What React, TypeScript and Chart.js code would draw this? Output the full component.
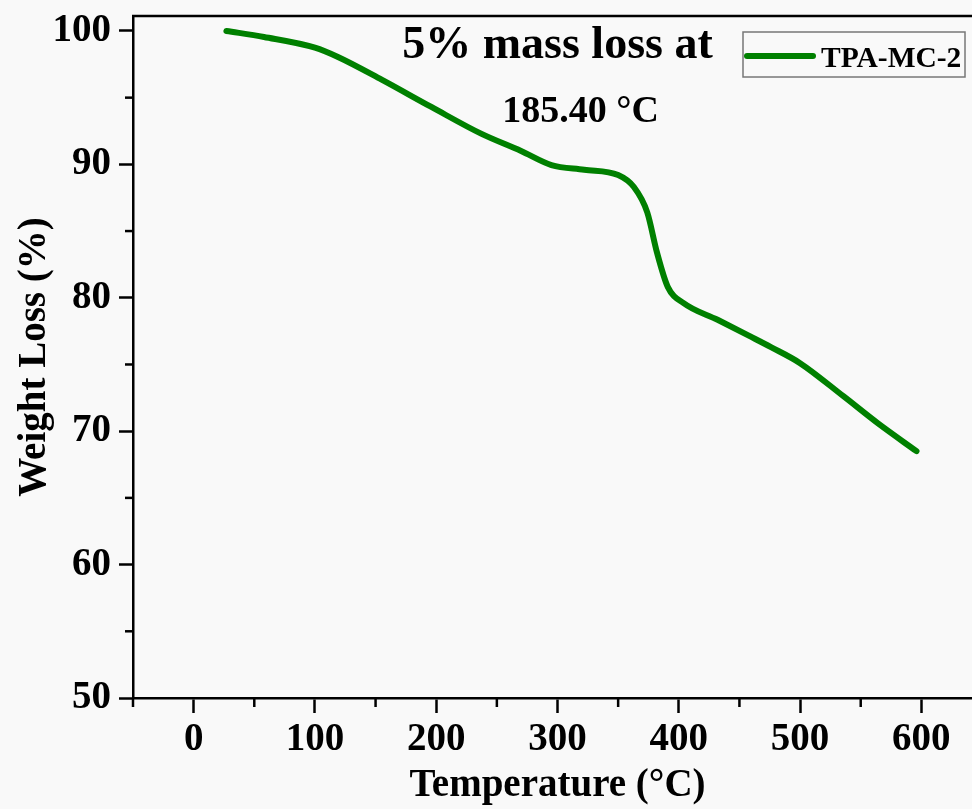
import React, { useEffect, useRef } from 'react';
import { Chart, registerables } from 'chart.js';

Chart.register(...registerables);

// ---- data ----
const temperatures = [27, 58, 100, 119, 155, 196, 237, 270, 295, 322, 350, 363, 374, 382, 391, 404, 432, 459, 476, 500, 536, 564, 596];
const weightLoss = [100, 99.55, 98.75, 98.05, 96.35, 94.3, 92.3, 91.0, 89.95, 89.6, 89.2, 88.3, 86.4, 83.4, 80.8, 79.6, 78.35, 77.1, 76.3, 75.1, 72.6, 70.6, 68.5];
const seriesLabel = 'TPA-MC-2';
const xTickValues = [0, 100, 200, 300, 400, 500, 600];
const xMinorTickValues = [-50, 50, 150, 250, 350, 450, 550, 650];
const yTickValues = [50, 60, 70, 80, 90, 100];
const yMinorTickValues = [55, 65, 75, 85, 95];
const annotationLines = ['5% mass loss at', '185.40 °C'];
const xTitle = 'Temperature (°C)';
const yTitle = 'Weight Loss (%)';

const FONT = "'Liberation Serif', 'Times New Roman', serif";
const GREEN = '#008000';

const decorPlugin = {
  id: 'decor',
  afterDraw(chart: any) {
    const { ctx, chartArea, scales } = chart;
    const xs = scales.x;
    const ys = scales.y;
    ctx.save();
    ctx.strokeStyle = '#000';
    ctx.lineWidth = 2.5;
    // top frame line
    ctx.beginPath();
    ctx.moveTo(chartArea.left - 1, chartArea.top);
    ctx.lineTo(chart.width, chartArea.top);
    ctx.stroke();
    // minor ticks
    xMinorTickValues.forEach((v) => {
      const px = xs.getPixelForValue(v);
      ctx.beginPath();
      ctx.moveTo(px, chartArea.bottom);
      ctx.lineTo(px, chartArea.bottom + 9);
      ctx.stroke();
    });
    yMinorTickValues.forEach((v) => {
      const py = ys.getPixelForValue(v);
      ctx.beginPath();
      ctx.moveTo(chartArea.left, py);
      ctx.lineTo(chartArea.left - 8, py);
      ctx.stroke();
    });
    // annotation text
    ctx.fillStyle = '#000';
    ctx.textAlign = 'center';
    ctx.textBaseline = 'alphabetic';
    ctx.font = `bold 46px ${FONT}`;
    ctx.fillText(annotationLines[0], (chartArea.left + chartArea.right) / 2, chartArea.top + 42);
    ctx.font = `bold 38px ${FONT}`;
    ctx.fillText(annotationLines[1], (chartArea.left + chartArea.right) / 2 + 23, chartArea.top + 106);
    // legend box
    const bx = chartArea.right - 239;
    const by = chartArea.top + 16;
    const bw = 222;
    const bh = 45;
    ctx.strokeStyle = '#777';
    ctx.lineWidth = 1.5;
    ctx.strokeRect(bx, by, bw, bh);
    ctx.strokeStyle = GREEN;
    ctx.lineWidth = 6;
    ctx.lineCap = 'round';
    ctx.beginPath();
    ctx.moveTo(bx + 4, by + 24);
    ctx.lineTo(bx + 70, by + 24);
    ctx.stroke();
    ctx.fillStyle = '#000';
    ctx.textAlign = 'left';
    ctx.font = `bold 29.5px ${FONT}`;
    ctx.fillText(chart.data.datasets[0].label, bx + 78, by + 35);
    ctx.restore();
  },
};

export default function App() {
  const canvasRef = useRef<HTMLCanvasElement | null>(null);

  useEffect(() => {
    const canvas = canvasRef.current;
    if (!canvas) return;
    const points = temperatures.map((t, i) => ({ x: t, y: weightLoss[i] }));
    const chart = new Chart(canvas, {
      type: 'line',
      data: {
        datasets: [
          {
            label: seriesLabel,
            data: points,
            borderColor: GREEN,
            backgroundColor: GREEN,
            borderWidth: 6,
            borderCapStyle: 'round',
            borderJoinStyle: 'round',
            pointRadius: 0,
            cubicInterpolationMode: 'monotone',
            fill: false,
          },
        ],
      },
      options: {
        animation: false,
        responsive: false,
        devicePixelRatio: 1,
        layout: { padding: { top: 16, right: 8, left: 0, bottom: 0 } },
        plugins: {
          legend: { display: false },
          tooltip: { enabled: false },
        },
        scales: {
          x: {
            type: 'linear',
            min: -50,
            max: 650,
            afterBuildTicks: (s: any) => {
              s.ticks = xTickValues.map((v) => ({ value: v }));
            },
            afterFit: (s: any) => {
              s.height = 111;
              s.paddingLeft = 0;
              s.paddingRight = 0;
            },
            ticks: {
              color: '#000',
              font: { family: FONT, size: 39, weight: 'bold' },
              padding: 4,
              maxRotation: 0,
              autoSkip: false,
            },
            grid: {
              drawOnChartArea: false,
              drawTicks: true,
              tickLength: 15,
              tickWidth: 2.5,
              tickColor: '#000',
            },
            border: { display: true, color: '#000', width: 2.5 },
            title: {
              display: true,
              text: xTitle,
              color: '#000',
              font: { family: FONT, size: 39, weight: 'bold' },
              padding: { top: 0, bottom: 0 },
            },
          },
          y: {
            type: 'linear',
            min: 50,
            max: 101.12,
            afterBuildTicks: (s: any) => {
              s.ticks = yTickValues.map((v) => ({ value: v }));
            },
            afterFit: (s: any) => {
              s.width = 133;
              s.paddingTop = 0;
              s.paddingBottom = 0;
            },
            ticks: {
              color: '#000',
              font: { family: FONT, size: 39, weight: 'bold' },
              padding: 8,
            },
            grid: {
              drawOnChartArea: false,
              drawTicks: true,
              tickLength: 14,
              tickWidth: 2.5,
              tickColor: '#000',
            },
            border: { display: true, color: '#000', width: 2.5 },
            title: {
              display: true,
              text: yTitle,
              color: '#000',
              font: { family: FONT, size: 39, weight: 'bold' },
              padding: { top: 12, bottom: 0 },
            },
          },
        },
      },
      plugins: [decorPlugin],
    } as any);
    return () => chart.destroy();
  }, []);

  return (
    <div
      style={{
        position: 'fixed',
        left: 0,
        top: 0,
        width: 972,
        height: 809,
        overflow: 'hidden',
        background: '#f9f9f9',
      }}
    >
      <canvas ref={canvasRef} width={990} height={809} style={{ display: 'block' }} />
    </div>
  );
}
